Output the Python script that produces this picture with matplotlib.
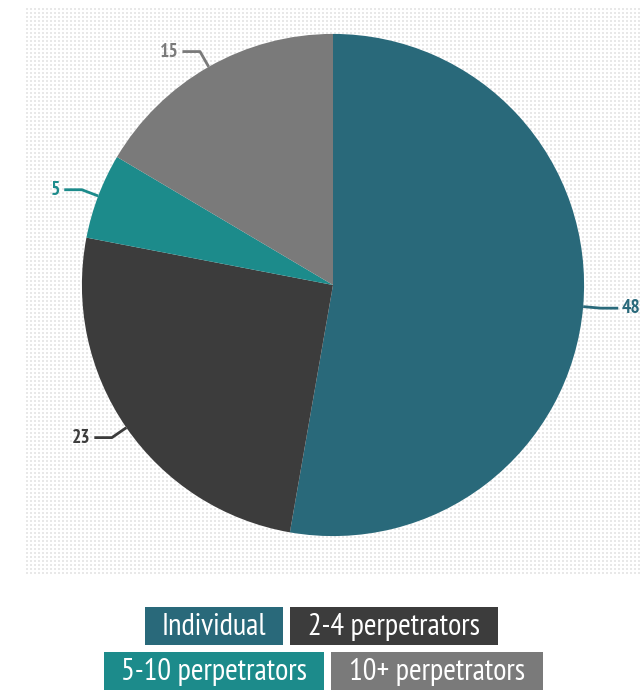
import numpy as np
import matplotlib
matplotlib.use("Agg")
import matplotlib.pyplot as plt
from matplotlib.patches import Rectangle

# data
categories = ["Individual", "2-4 perpetrators", "5-10 perpetrators", "10+ perpetrators"]
values = [48, 23, 5, 15]
colors = ["#29697a", "#3c3c3c", "#1c8b8b", "#7a7a7a"]

FONT = ["PT Sans Narrow", "DejaVu Sans"]

W, H = 640, 690
fig = plt.figure(figsize=(W / 100, H / 100), dpi=100)

# dotted background panel
bg = fig.add_axes([25 / W, (H - 575) / H, (W - 25) / W, 570 / H])
bg.set_xlim(0, W - 25)
bg.set_ylim(0, 570)
gx, gy = np.meshgrid(np.arange(2, W - 25, 4), np.arange(2, 570, 4))
bg.scatter(gx.ravel(), gy.ravel(), s=1.2, marker="s", color="#e8e8e8", linewidths=0)
bg.axis("off")

# pie
ax = fig.add_axes([43 / W, (H - 575) / H, 580 / W, 580 / H])
wedges, _ = ax.pie(values, colors=colors, startangle=90, counterclock=False,
                   radius=1.0, wedgeprops=dict(linewidth=0))
ax.set_xlim(-1.155, 1.155)
ax.set_ylim(-1.155, 1.155)
ax.set_aspect("equal")
ax.axis("off")

# value labels with elbow leader lines
for w, v, c in zip(wedges, values, colors):
    ang = np.deg2rad((w.theta1 + w.theta2) / 2)
    x0, y0 = np.cos(ang), np.sin(ang)
    x1, y1 = 1.07 * x0, 1.07 * y0
    side = 1 if x0 > 0 else -1
    x2 = x1 + side * 0.07
    ax.plot([x0, x1, x2], [y0, y1, y1], color=c, lw=2, clip_on=False,
            solid_capstyle="butt")
    ax.text(x2 + side * 0.015, y1, str(v), color=c, fontsize=14, fontweight="bold",
            ha="left" if side > 0 else "right", va="center", family=FONT,
            clip_on=False)

# legend boxes
boxes = [(145, 607, 138), (290, 607, 208), (104, 652, 220), (331, 652, 212)]
for (bx, by, bw), lab, c in zip(boxes, categories, colors):
    fig.patches.append(Rectangle((bx / W, (H - by - 38) / H), bw / W, 38 / H,
                                 transform=fig.transFigure, facecolor=c,
                                 edgecolor="none"))
    fig.text((bx + bw / 2) / W, (H - by - 20) / H, lab, color="white",
             fontsize=22, ha="center", va="center", family=FONT)

fig.savefig("out.png", dpi=100)
